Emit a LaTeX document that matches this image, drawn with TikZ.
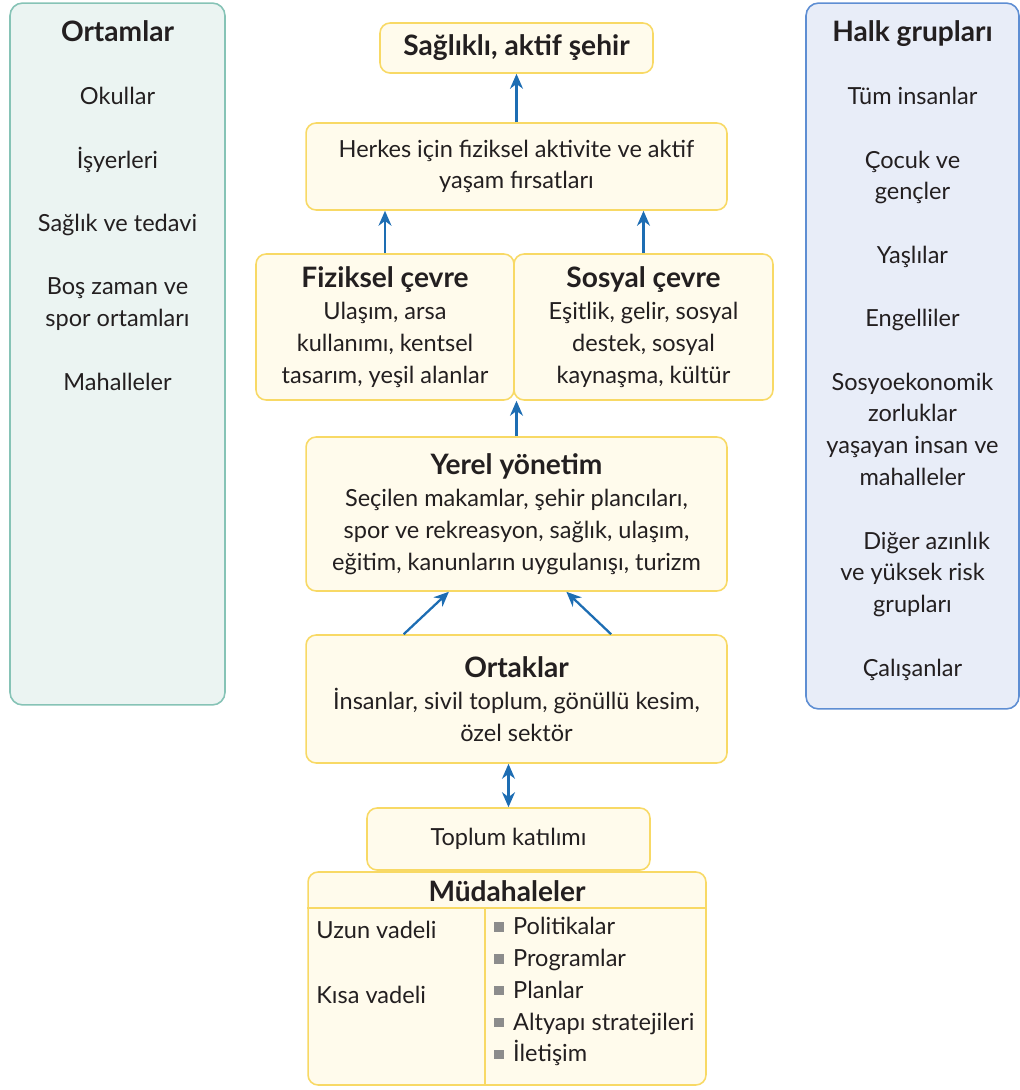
\documentclass[tikz,border=0pt]{standalone}
\usepackage{fontspec}
\setmainfont{Lato}
\usetikzlibrary{arrows.meta,calc,positioning}
\definecolor{sariKenar}{HTML}{F8D965}
\definecolor{sariDolgu}{HTML}{FFFBEC}
\definecolor{yesilKenar}{HTML}{86C3B6}
\definecolor{yesilDolgu}{HTML}{EBF4F2}
\definecolor{maviKenar}{HTML}{5E8ED3}
\definecolor{maviDolgu}{HTML}{E8EDF8}
\definecolor{okRengi}{HTML}{1D6DB3}
\definecolor{yaziRengi}{HTML}{231F20}
\definecolor{maddeRengi}{HTML}{8C8C8C}
\newcommand{\maddeisareti}{\textcolor{maddeRengi}{\rule[0.12em]{0.4em}{0.4em}}\hspace{0.4em}}
\newcommand{\baslik}[1]{{\fontsize{16}{18.1}\selectfont\bfseries #1}}
\tikzset{
	yazi/.style={text=yaziRengi, font=\fontsize{13.4}{18.1}\selectfont, inner sep=0pt},
	kutu/.style={yazi, draw=sariKenar, fill=sariDolgu, line width=0.9pt, rounded corners=0.2cm, align=center},
	panel/.style={draw=#1Kenar, fill=#1Dolgu, line width=0.9pt, rounded corners=0.25cm},
	ok/.style={draw=okRengi, line width=1.3pt, -{Stealth[length=3mm,width=2.6mm]}},
	ciftok/.style={draw=okRengi, line width=1.3pt, {Stealth[length=3mm,width=2.6mm]}-{Stealth[length=3mm,width=2.6mm]}}
}
\begin{document}
\begin{tikzpicture}[x=0.02cm, y=-0.02cm]
	\useasboundingbox (0,0) rectangle (1020,1090);
	% yan paneller
	\node[panel=yesil, minimum width=4.3cm, minimum height=14.04cm] (ortamlar) at (117.5,354) {};
	\node[panel=mavi, minimum width=4.26cm, minimum height=14.12cm] (halk) at (912.5,356) {};
	\node[yazi, align=center, anchor=north] (ortamlarYazi) at (117.5,20) {\baslik{Ortamlar}\\[18pt]
		Okullar\\[18pt] İşyerleri\\[18pt] Sağlık ve tedavi\\[18pt] Boş zaman ve\\ spor ortamları\\[18pt] Mahalleler};
	\node[yazi, align=center, anchor=north] (halkYazi) at (912.5,20) {\baslik{Halk grupları}\\[18pt]
		Tüm insanlar\\[18pt] Çocuk ve\\ gençler\\[18pt] Yaşlılar\\[18pt] Engelliler\\[18pt]
		Sosyoekonomik\\ zorluklar\\ yaşayan insan ve\\ mahalleler\\[18pt]
		\hspace{1.2em}Diğer azınlık\\ ve yüksek risk\\ grupları\\[18pt] Çalışanlar};
	% orta kutular
	\node[kutu, minimum width=5.46cm, minimum height=1cm] (saglikli) at (516.5,48) {\baslik{Sağlıklı, aktif şehir}};
	\node[kutu, minimum width=8.42cm, minimum height=1.74cm] (herkes) at (516.5,166.5) {Herkes için fiziksel aktivite ve aktif\\ yaşam fırsatları};
	\node[kutu, minimum width=5.16cm, minimum height=2.92cm] (fiziksel) at (385,327) {\baslik{Fiziksel çevre}\\ Ulaşım, arsa\\ kullanımı, kentsel\\ tasarım, yeşil alanlar};
	\node[kutu, minimum width=5.18cm, minimum height=2.92cm] (sosyal) at (643.5,327) {\baslik{Sosyal çevre}\\ Eşitlik, gelir, sosyal\\ destek, sosyal\\ kaynaşma, kültür};
	\node[kutu, minimum width=8.42cm, minimum height=3.08cm] (yerel) at (516.5,514) {\baslik{Yerel yönetim}\\ Seçilen makamlar, şehir plancıları,\\ spor ve rekreasyon, sağlık, ulaşım,\\ eğitim, kanunların uygulanışı, turizm};
	\node[kutu, minimum width=8.42cm, minimum height=2.56cm] (ortaklar) at (516.5,699) {\baslik{Ortaklar}\\ İnsanlar, sivil toplum, gönüllü kesim,\\ özel sektör};
	\node[kutu, minimum width=5.66cm, minimum height=1.24cm] (toplum) at (508.5,839) {Toplum katılımı};
	% mudahaleler tablosu
	\node[kutu, minimum width=7.96cm, minimum height=4.26cm] (mudahaleler) at (507,978.5) {};
	\draw[draw=sariKenar, line width=0.9pt] (mudahaleler.west |- 0,908) -- (mudahaleler.east |- 0,908);
	\draw[draw=sariKenar, line width=0.9pt] (485,908) -- (mudahaleler.south -| 485,908);
	\node[yazi] (mudBaslik) at (507,891) {\baslik{Müdahaleler}};
	\node[yazi, anchor=west] (uzun) at (316,930) {Uzun vadeli};
	\node[yazi, anchor=west] (kisa) at (316,995) {Kısa vadeli};
	\node[yazi, align=left, anchor=north west] (maddeler) at (494,917) {\maddeisareti Politikalar\\ \maddeisareti Programlar\\
		\maddeisareti Planlar\\ \maddeisareti Altyapı stratejileri\\ \maddeisareti İletişim};
	% oklar
	\draw[ok] (herkes.north) -- (saglikli.south);
	\draw[ok] (fiziksel.north) -- (fiziksel.north |- herkes.south);
	\draw[ok] (sosyal.north) -- (sosyal.north |- herkes.south);
	\draw[ok] (yerel.north) -- (yerel.north |- fiziksel.south);
	\draw[ok] ($(ortaklar.north west)!0.233!(ortaklar.north east)$) -- ($(yerel.south west)!0.34!(yerel.south east)$);
	\draw[ok] ($(ortaklar.north west)!0.724!(ortaklar.north east)$) -- ($(yerel.south west)!0.618!(yerel.south east)$);
	\draw[ciftok] (toplum.north |- ortaklar.south) -- (toplum.north);
\end{tikzpicture}
\end{document}
